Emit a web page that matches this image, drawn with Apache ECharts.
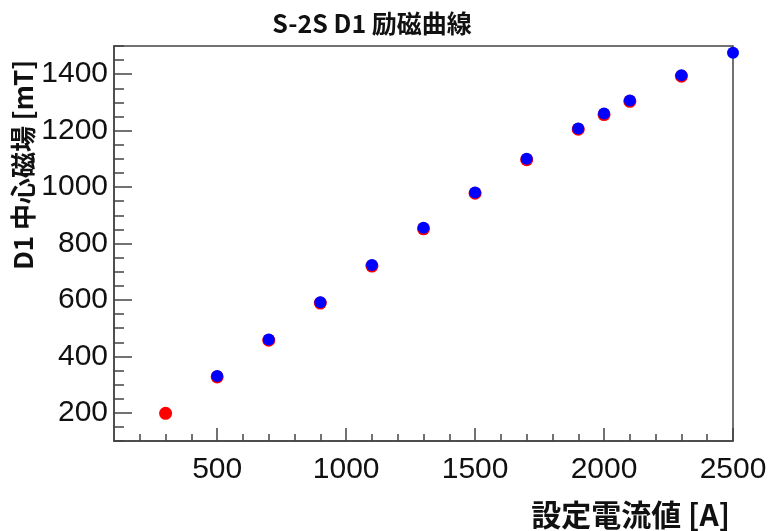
<!DOCTYPE html>
<html>
<head>
<meta charset="utf-8">
<script src="https://cdn.jsdelivr.net/npm/echarts@6/dist/echarts.min.js"></script>
<style>
	html, body { margin: 0; padding: 0; background: #fff; }
	#chart { width: 770px; height: 531px; }
</style>
</head>
<body>
<div id="chart"></div>
<script>
// measured field at each set current (red = first run, blue = second run)
const redCurrent = [300, 500, 700, 900, 1100, 1300, 1500, 1700, 1900, 2000, 2100, 2300];
const redField = [198, 327, 457, 589, 720, 852, 978, 1097, 1205, 1257, 1304, 1393];
const blueCurrent = [500, 700, 900, 1100, 1300, 1500, 1700, 1900, 2000, 2100, 2300, 2500];
const blueField = [330, 460, 592, 724, 856, 981, 1100, 1208, 1261, 1307, 1396, 1476];

const xMajorTicks = [500, 1000, 1500, 2000, 2500];
const yMajorTicks = [200, 400, 600, 800, 1000, 1200, 1400];

const titleText = 'S-2S D1 励磁曲線';
const xTitle = '設定電流値 [A]';
const yTitle = 'D1 中心磁場 [mT]';

const axisColor = '#444';
const labelFont = { fontFamily: 'Liberation Sans', fontSize: 30, color: '#111' };
const cjkFont = 'Noto Sans CJK JP';

const chart = echarts.init(document.getElementById('chart'), null, { renderer: 'canvas' });

const pairs = (xs, ys) => xs.map((x, i) => [x, ys[i]]);
// only the major values get a label, the rest are minor ticks
const majorOnly = (list) => (v) => list.includes(v) ? String(v) : '';

chart.setOption({
	animation: false,
	grid: {
		left: 114, right: 37, top: 46, bottom: 90,
		show: true, borderColor: axisColor, borderWidth: 1.5
	},
	xAxis: [
		{
			// minor ticks + labels
			type: 'value', min: 100, max: 2500, interval: 100,
			axisLine: { show: true, lineStyle: { color: axisColor, width: 1.5 } },
			axisTick: { show: true, inside: true, length: 7, lineStyle: { color: axisColor, width: 1.5 } },
			axisLabel: { formatter: majorOnly(xMajorTicks), showMinLabel: false, margin: 14, ...labelFont },
			splitLine: { show: false }
		},
		{
			// long major ticks
			type: 'value', min: 100, max: 2500, position: 'bottom',
			axisLine: { show: false },
			axisTick: { show: true, inside: true, length: 13, customValues: xMajorTicks, lineStyle: { color: axisColor, width: 1.5 } },
			axisLabel: { show: false },
			splitLine: { show: false }
		}
	],
	yAxis: [
		{
			type: 'value', min: 100, max: 1500, interval: 50,
			axisLine: { show: true, lineStyle: { color: axisColor, width: 1.5 } },
			axisTick: { show: true, inside: true, length: 10, lineStyle: { color: axisColor, width: 1.5 } },
			axisLabel: { formatter: majorOnly(yMajorTicks), margin: 6, ...labelFont },
			splitLine: { show: false }
		},
		{
			type: 'value', min: 100, max: 1500, position: 'left',
			axisLine: { show: false },
			axisTick: { show: true, inside: true, length: 18, customValues: yMajorTicks, lineStyle: { color: axisColor, width: 1.5 } },
			axisLabel: { show: false },
			splitLine: { show: false }
		}
	],
	graphic: [
		{
			type: 'text', x: 372, y: 23,
			style: { text: titleText, font: `bold 25px "${cjkFont}"`, fill: '#111', textAlign: 'center', textVerticalAlign: 'middle' }
		},
		{
			type: 'text', x: 730, y: 515,
			style: { text: xTitle, font: `bold 30px "${cjkFont}"`, fill: '#111', textAlign: 'right', textVerticalAlign: 'middle' }
		},
		{
			type: 'text', x: 23, y: 60, rotation: Math.PI / 2,
			style: { text: yTitle, font: `bold 26px "${cjkFont}"`, fill: '#111', textAlign: 'right', textVerticalAlign: 'middle' }
		}
	],
	series: [
		{
			type: 'scatter', xAxisIndex: 0, yAxisIndex: 0,
			data: pairs(redCurrent, redField),
			symbol: 'circle', symbolSize: 13, clip: false,
			itemStyle: { color: '#ff0000', opacity: 1 }
		},
		{
			type: 'scatter', xAxisIndex: 0, yAxisIndex: 0,
			data: pairs(blueCurrent, blueField),
			symbol: 'circle', symbolSize: 12, clip: false,
			itemStyle: { color: '#0000ff', opacity: 1 }
		}
	]
});

window.addEventListener('resize', () => chart.resize());
</script>
</body>
</html>
